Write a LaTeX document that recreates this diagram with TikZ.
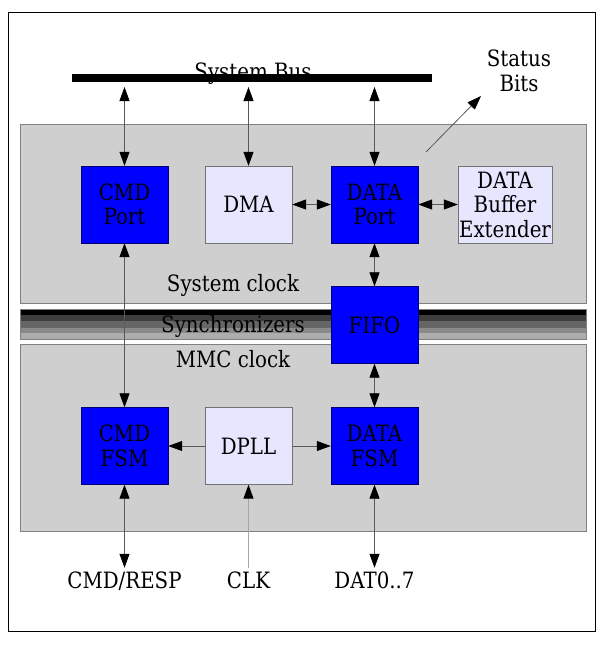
\documentclass[tikz,border=0pt]{standalone}
\usepackage{fontspec}
\setmainfont{DejaVu Serif}[FakeStretch=0.88]
\usetikzlibrary{arrows.meta}

\definecolor{panelgray}{RGB}{207,207,207}
\definecolor{portblue}{RGB}{0,0,255}
\definecolor{lavender}{RGB}{230,230,255}

\tikzset{bighead/.tip={Triangle[length=14pt, width=10pt, color=black]}}

\begin{document}
\begin{tikzpicture}[x=1pt, y=-1pt,
	every node/.style={font=\fontsize{22.5}{24.5}\selectfont},
	blueblock/.style={draw=black!55!blue, fill=portblue, minimum width=87pt, minimum height=77pt, inner sep=0pt, align=center},
	lightblock/.style={draw=black!55, fill=lavender, minimum width=87pt, minimum height=77pt, inner sep=0pt, align=center},
	panel/.style={draw=black!50, line width=0.8pt, fill=panelgray},
	link/.style={draw=black!65, line width=0.8pt}]

		\pgfmathsetmacro{\leftedge}{20}
		\pgfmathsetmacro{\rightedge}{586}
		\pgfmathsetmacro{\colcmd}{124.5}
		\pgfmathsetmacro{\coldma}{248.5}
		\pgfmathsetmacro{\coldata}{374.5}

		\useasboundingbox (0,0) rectangle (614,646);

		% draw outer frame
		\draw[line width=1pt] (8,12) rectangle (595,631);

		% draw clock domains
		\draw[panel] (\leftedge,124) rectangle (\rightedge,303);
		\draw[panel] (\leftedge,344) rectangle (\rightedge,531);

		% draw synchronizer band
		\foreach \top/\bot/\shade in {309/315/100, 315/321/76, 321/328/60, 328/333/46, 333/339/32}
		{
			\fill[black!\shade] (\leftedge,\top) rectangle (\rightedge,\bot);
		}
		\draw[black!50, line width=0.8pt] (\leftedge,309) rectangle (\rightedge,339);

		\node[anchor=base] (sysclock) at (233,291) {System clock};
		\node[anchor=base] (sync) at (233,332) {Synchronizers};
		\node[anchor=base] (mmcclock) at (233,367) {MMC clock};

		% draw system bus
		\node[anchor=base] (buslabel) at (253,79) {System Bus};
		\draw[line width=8pt] (72,78) coordinate (busleft) -- (432,78) coordinate (busright);
		\coordinate (buscmd) at (\colcmd,87);
		\coordinate (busdma) at (\coldma,87);
		\coordinate (busdata) at (\coldata,87);

		% draw blocks of the system clock domain
		\node[blueblock] (cmdport) at (\colcmd,204.5) {CMD\\Port};
		\node[lightblock] (dma) at (\coldma,204.5) {DMA};
		\node[blueblock] (dataport) at (\coldata,204.5) {DATA\\Port};
		\node[lightblock, minimum width=94pt] (extender) at (505,204.5) {DATA\\Buffer\\Extender};
		\node[blueblock] (fifo) at (\coldata,325) {FIFO};

		% draw blocks of the mmc clock domain
		\node[blueblock] (cmdfsm) at (\colcmd,446) {CMD\\FSM};
		\node[lightblock] (dpll) at (\coldma,446) {DPLL};
		\node[blueblock] (datafsm) at (\coldata,446) {DATA\\FSM};

		% draw pins
		\node[anchor=base] (cmdresp) at (\colcmd,588) {CMD/RESP};
		\node[anchor=base] (clk) at (\coldma,588) {CLK};
		\node[anchor=base] (dat) at (\coldata,588) {DAT0..7};

		% draw status bits
		\node[align=center] (status) at (519,71) {Status\\Bits};
		\coordinate (statusfrom) at (426,152);
		\coordinate (statusto) at (481,96);
		\draw[link, -bighead] (statusfrom) -- (statusto);

		% draw connections
		\draw[link, bighead-bighead] (buscmd) -- (cmdport);
		\draw[link, bighead-bighead] (busdma) -- (dma);
		\draw[link, bighead-bighead] (busdata) -- (dataport);
		\draw[link, bighead-bighead] (dma) -- (dataport);
		\draw[link, bighead-bighead] (dataport) -- (extender);
		\draw[link, bighead-bighead] (dataport) -- (fifo);
		\draw[link, bighead-bighead] (fifo) -- (datafsm);
		\draw[link, bighead-bighead] (cmdport) -- (cmdfsm);
		\draw[link, -bighead] (dpll) -- (cmdfsm);
		\draw[link, -bighead] (dpll) -- (datafsm);
		\draw[link, bighead-bighead] (cmdfsm) -- (cmdresp);
		\draw[link, bighead-bighead] (datafsm) -- (dat);
		\draw[draw=black!35, line width=1.3pt, -bighead] (clk) -- (dpll);
	\end{tikzpicture}
\end{document}
